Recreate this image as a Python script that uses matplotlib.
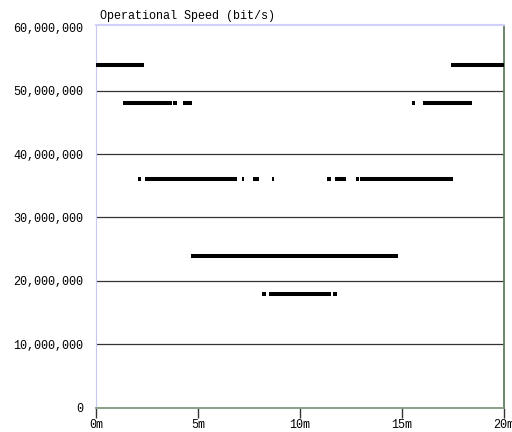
import matplotlib
matplotlib.use("Agg")
import matplotlib.pyplot as plt
from matplotlib.ticker import FuncFormatter

# Operational link speed over a 20-minute window; each entry is (start_min, end_min)
speed_54 = [(0.0, 2.37), (17.4, 20.0)]
speed_48 = [(1.34, 3.74), (3.79, 3.98), (4.28, 4.71), (15.49, 15.65), (16.04, 18.44)]
speed_36 = [(2.07, 2.22), (2.40, 6.93), (7.14, 7.27), (7.68, 8.00), (8.61, 8.74),
            (11.34, 11.50), (11.72, 12.25), (12.73, 12.88), (12.94, 17.52)]
speed_24 = [(4.66, 14.82)]
speed_18 = [(8.15, 8.33), (8.47, 11.50), (11.63, 11.80)]

rates = [54e6, 48e6, 36e6, 24e6, 18e6]
intervals = [speed_54, speed_48, speed_36, speed_24, speed_18]

y_ticks = [0, 10e6, 20e6, 30e6, 40e6, 50e6, 60e6]
x_ticks = [0, 5, 10, 15, 20]
title = "Operational Speed (bit/s)"

mono = "Liberation Mono"

fig = plt.figure(figsize=(5.12, 4.32), dpi=100)
ax = fig.add_axes([96 / 512, 24.3 / 432, 408 / 512, 383 / 432])

# horizontal reference lines every 10 Mbit/s
for yv in y_ticks[1:-1]:
    ax.axhline(yv, color="#333333", lw=0.9, zorder=1)

for rate, segs in zip(rates, intervals):
    for start, end in segs:
        ax.hlines(rate, start, end, color="black", lw=2.9, capstyle="butt", zorder=3)

ax.set_xlim(0, 20)
ax.set_ylim(0, 60.4e6)

ax.set_yticks(y_ticks)
ax.yaxis.set_major_formatter(FuncFormatter(lambda v, p: f"{int(v):,}"))
ax.set_xticks(x_ticks)
ax.set_xticklabels([f"{t}m" for t in x_ticks])

ax.tick_params(axis="y", length=0, pad=9, labelsize=8.5)
ax.tick_params(axis="x", length=7, width=1, color="#333333", direction="out",
               pad=1, labelsize=8.5)
for lbl in ax.get_xticklabels() + ax.get_yticklabels():
    lbl.set_fontfamily(mono)

ax.spines["left"].set_color("#c8c8f4")
ax.spines["top"].set_color("#d0d0f8")
ax.spines["top"].set_linewidth(1.5)
ax.spines["bottom"].set_color("#7f9a7f")
ax.spines["bottom"].set_linewidth(1.3)
ax.spines["right"].set_color("#5f7f5f")
ax.spines["right"].set_linewidth(1.3)

fig.text(100 / 512, 1 - 16 / 432, title, family=mono, fontsize=8.5,
         ha="left", va="center")

fig.savefig("out.png", dpi=100)
